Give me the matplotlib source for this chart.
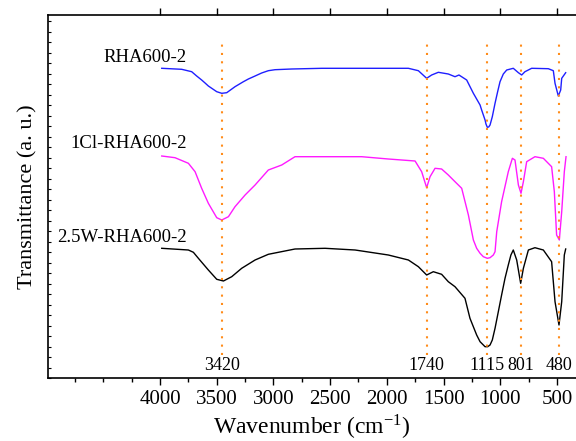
import numpy as np
import matplotlib
matplotlib.use("Agg")
import matplotlib.pyplot as plt
from matplotlib.ticker import FixedLocator, MultipleLocator, NullFormatter

plt.rcParams['font.family'] = ['Liberation Serif', 'DejaVu Serif']
plt.rcParams['mathtext.fontset'] = 'stix'

# FTIR spectra (wavenumber, transmittance in arbitrary offset units)
wn_rha = [3985, 3809, 3721, 3677, 3633, 3603, 3574, 3500, 3456, 3412, 3339, 3265, 3221, 3162, 3104,
          3045, 2986, 2839, 2574,
          1810, 1722, 1649, 1605, 1546, 1458, 1399, 1364, 1296, 1237, 1178, 1164, 1134, 1126, 1114,
          1102, 1090, 1070, 1046, 1023, 1002, 973, 943, 885, 840, 811, 782, 723, 576, 532, 517, 488,
          467, 458, 423]
t_rha = [309.7, 308.7, 306.3, 302, 298, 295, 292, 286.3, 284.7, 285.3, 291.3, 296.3, 299, 302, 305,
         307.3, 308.3, 309, 309.7,
         309.7, 307.3, 299.7, 303, 305.7, 304, 301.3, 303, 298, 284.7, 273, 268, 258, 254, 250.7,
         251, 253, 261.3, 274.7, 286.3, 296.3, 304, 308, 309.7, 305.3, 303, 306.3, 309.7, 309.3, 307.3,
         294.7, 282, 288, 299.7, 305.3]

wn_cl = [3985, 3868, 3750, 3691, 3633, 3574, 3500, 3456, 3397, 3339, 3250, 3162, 3045, 2927, 2810,
         2222, 1987, 1751, 1693, 1649, 1619, 1575, 1517, 1458, 1399, 1340, 1281, 1237, 1208, 1178,
         1149, 1114, 1090, 1061, 1046, 1031, 988, 929, 893, 870, 840, 817, 796, 767, 694, 620, 547,
         523, 503, 479, 458, 435, 420]
t_cl = [222, 220.3, 214.7, 206.3, 189.7, 174.7, 160.3, 158, 161.3, 171.3, 183, 193, 208, 213, 221.3,
        221.3, 219, 217, 206.3, 190.3, 201.3, 209.7, 209, 203, 196.3, 189.7, 163, 138, 129.7, 124.7,
        121.3, 119.7, 120.3, 123, 126.3, 146.3, 176.3, 206.3, 219.7, 218, 193, 184.7, 196.3, 216.3,
        221.3, 219.7, 211.3, 186.3, 143, 138, 166.3, 206.3, 221.3]

wn_w = [3985, 3750, 3706, 3662, 3574, 3500, 3441, 3368, 3280, 3162, 3045, 2810, 2545, 2280, 1987,
        1810, 1722, 1649, 1590, 1517, 1458, 1399, 1311, 1267, 1208, 1178, 1134, 1111, 1090, 1070,
        1046, 1017, 988, 958, 929, 906, 885, 855, 820, 796, 752, 694, 620, 547, 517, 482, 458, 435, 423]
t_w = [129.7, 128, 125.7, 119.7, 108, 98.7, 97, 101.3, 109.7, 118, 123.7, 129, 129.7, 128, 123,
       118, 111.3, 103, 106.3, 103.7, 96.3, 91.3, 79.7, 59.7, 43, 36.3, 31.3, 31.3, 33, 38,
       49.7, 66.3, 83, 99.7, 113, 123, 128, 118, 94.7, 109.7, 128, 130.3, 128, 116.3, 76.3, 53, 76.3,
       123, 129]

names = ['RHA600-2', '1Cl-RHA600-2', '2.5W-RHA600-2']
colors = ['#1f1fff', '#ff1aff', 'black']

peak_pos = [3456, 1648, 1114, 817, 481]
peak_labels = ['3420', '1740', '1115', '801', '480']

fig = plt.figure(figsize=(5.76, 4.41), dpi=100)
ax = fig.add_axes([48 / 576, 63 / 441, 528 / 576, 363 / 441])

for x, y, c in zip([wn_rha, wn_cl, wn_w], [t_rha, t_cl, t_w], colors):
    ax.plot(x, y, color=c, lw=1.0)

for p, lab in zip(peak_pos, peak_labels):
    ax.plot([p, p], [23, 336], color='#ff8c1a', lw=1.5, linestyle=(0, (1, 3)))
    ax.text(p, 12, lab, ha='center', va='center', fontsize=13)

label_y = [321, 234, 140]
for name, ly in zip(names, label_y):
    ax.text(3762, ly, name, ha='right', va='center', fontsize=13.5)

ax.set_xlim(4988, 332)
ax.set_ylim(0, 363)
ax.spines['right'].set_visible(False)

ax.xaxis.set_major_locator(FixedLocator([4000, 3500, 3000, 2500, 2000, 1500, 1000, 500]))
ax.xaxis.set_minor_locator(FixedLocator([4750, 4500, 4250, 3750, 3250, 2750, 2250, 1750, 1250, 750, 250]))
ax.tick_params(axis='x', which='major', direction='out', length=5, width=1, labelsize=15, top=True)
ax.tick_params(axis='x', which='minor', direction='out', length=3, width=1)

ax.yaxis.set_major_locator(MultipleLocator(10.5))
ax.yaxis.set_major_formatter(NullFormatter())
ax.tick_params(axis='y', which='major', direction='in', length=2, width=0.8)

ax.set_xlabel('Wavenumber (cm$^{\\mathregular{-1}}$)', fontsize=17, labelpad=3)
ax.set_ylabel('Transmittance (a. u.)', fontsize=16, labelpad=4)

for s in ['left', 'bottom', 'top']:
    ax.spines[s].set_linewidth(1.2)

fig.savefig('out.png', dpi=100)
